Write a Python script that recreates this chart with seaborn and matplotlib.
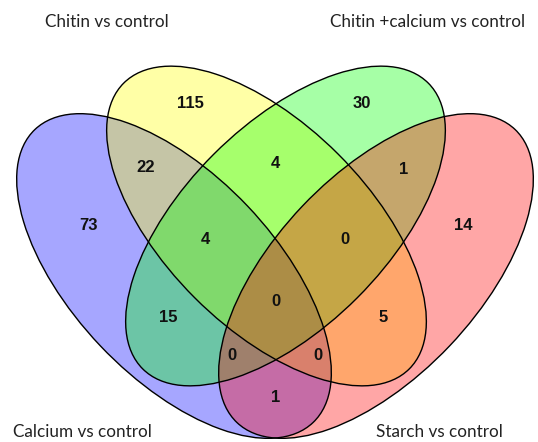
import matplotlib
matplotlib.use("Agg")
import matplotlib.pyplot as plt
from matplotlib.patches import Ellipse
import seaborn as sns

# sets, in drawing order
set_names = ["Calcium vs control", "Chitin vs control",
             "Chitin +calcium vs control", "Starch vs control"]
set_colors = ["blue", "yellow", "#00ff00", "red"]

# region counts (membership string: Calcium, Chitin, Chitin+Ca, Starch)
regions = ["1000", "0100", "1100", "0010", "0110", "0011", "0001",
           "1110", "0111", "1010", "1111", "0101", "1011", "1101", "1001"]
counts = [73, 115, 22, 30, 4, 1, 14, 4, 0, 15, 0, 5, 0, 0, 1]

# layout in pixel space (538 x 442)
ellipses = {
    "Calcium vs control": (174, 276, 46.5),
    "Chitin vs control": (266.5, 226, 45),
    "Chitin +calcium vs control": (285.5, 226, 135),
    "Starch vs control": (376, 276, 133.5),
}
label_pos = {
    "1000": (88, 225), "0100": (190, 103), "1100": (146, 168),
    "0010": (362, 103), "0110": (275, 163), "0011": (404, 169),
    "0001": (463, 225), "1110": (205, 240), "0111": (345, 240),
    "1010": (168, 318), "1111": (276, 302), "0101": (383, 318),
    "1011": (232, 356), "1101": (318, 356), "1001": (276, 397),
}
title_pos = {
    "Chitin vs control": (45, 22),
    "Chitin +calcium vs control": (330, 22),
    "Calcium vs control": (13, 432),
    "Starch vs control": (376, 432),
}

sns.set_theme(style="white")
fig = plt.figure(figsize=(5.38, 4.42), dpi=100)
ax = fig.add_axes([0, 0, 1, 1])
ax.set_xlim(0, 538)
ax.set_ylim(442, 0)
ax.set_aspect("equal")
ax.axis("off")

for name, color in zip(set_names, set_colors):
    cx, cy, ang = ellipses[name]
    ax.add_patch(Ellipse((cx, cy), 404, 203, angle=ang, facecolor=color,
                         alpha=0.35, edgecolor="none"))
for name in set_names:
    cx, cy, ang = ellipses[name]
    ax.add_patch(Ellipse((cx, cy), 404, 203, angle=ang, facecolor="none",
                         edgecolor="black", lw=1.0))

for reg, n in zip(regions, counts):
    x, y = label_pos[reg]
    ax.text(x, y, str(n), ha="center", va="center", fontsize=12,
            fontweight="bold", family="Liberation Sans", color="#111111")

for name in set_names:
    x, y = title_pos[name]
    ax.text(x, y, name, ha="left", va="center", fontsize=12.3, family="Lato",
            color="#222222")

fig.savefig("out.png", dpi=100)
